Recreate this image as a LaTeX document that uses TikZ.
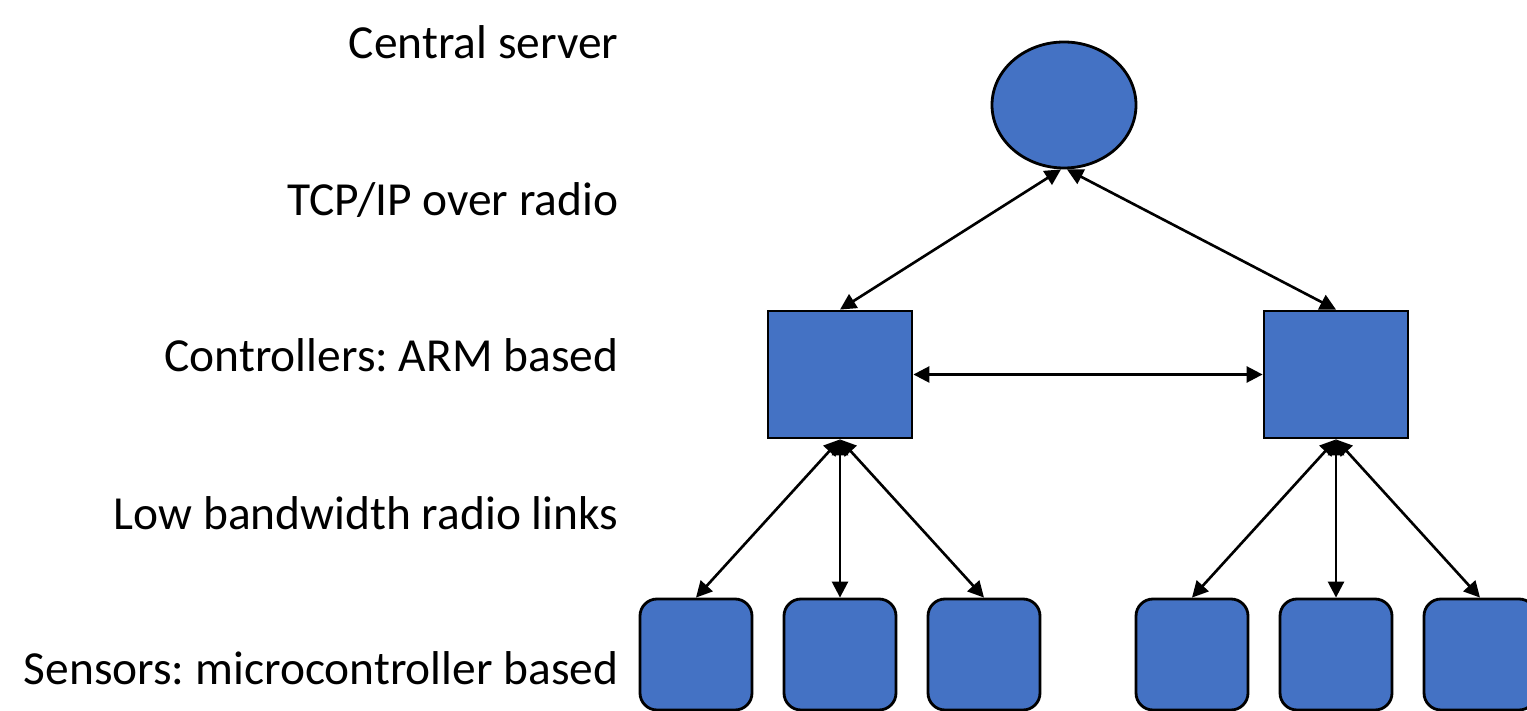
\documentclass[tikz,border=0pt]{standalone}
\usepackage{fontspec}
\setmainfont{Carlito}
\usepackage{tikz}
\usetikzlibrary{arrows.meta}
\usetikzlibrary{shapes.geometric}
\definecolor{nodeblue}{HTML}{4472C4}
\frenchspacing

\begin{document}
\begin{tikzpicture}[
    unit/.style={draw=black, line width=0.8pt, fill=nodeblue, inner sep=0pt},
    ctrlbox/.style={unit, rectangle, minimum width=1.44cm, minimum height=1.27cm},
    sensbox/.style={unit, rectangle, rounded corners=0.17cm, minimum width=1.12cm, minimum height=1.11cm},
    link/.style={{Triangle[length=1.6mm,width=1.6mm]}-{Triangle[length=1.6mm,width=1.6mm]}, line width=0.75pt},
    layer/.style={anchor=east, font=\fontsize{13.5}{16}\selectfont, inner sep=0pt}
  ]
    \useasboundingbox (0,0) rectangle (15.27,-7.11);

    % layer labels
    \node[layer] (labServer) at (6.19,-0.42) {Central server};
    \node[layer] (labTcp) at (6.19,-2.00) {TCP/IP over radio};
    \node[layer] (labCtrl) at (6.19,-3.55) {Controllers: ARM based};
    \node[layer] (labLow) at (6.19,-5.13) {Low bandwidth radio links};
    \node[layer] (labSens) at (6.19,-6.68) {Sensors: microcontroller based};

    % central server
    \node[unit, ellipse, minimum width=1.44cm, minimum height=1.26cm] (server) at (10.64,-1.05) {};

    % controllers
    \node[ctrlbox] (ctrlL) at (8.40,-3.745) {};
    \node[ctrlbox] (ctrlR) at (13.36,-3.745) {};

    % sensors
    \node[sensbox] (sensL1) at (6.96,-6.545) {};
    \node[sensbox] (sensL2) at (8.40,-6.545) {};
    \node[sensbox] (sensL3) at (9.84,-6.545) {};
    \node[sensbox] (sensR1) at (11.92,-6.545) {};
    \node[sensbox] (sensR2) at (13.36,-6.545) {};
    \node[sensbox] (sensR3) at (14.80,-6.545) {};

    % radio links
    \draw[link] (ctrlL.north) -- ([xshift=-0.03cm]server.south);
    \draw[link] (ctrlR.north) -- ([xshift=0.03cm]server.south);
    \draw[link] (ctrlL.east) -- (ctrlR.west);

    % low bandwidth links
    \draw[link] (ctrlL.south) -- (sensL1.north); \draw[link] (ctrlL.south) -- (sensL2.north);
    \draw[link] (ctrlL.south) -- (sensL3.north);
    \draw[link] (ctrlR.south) -- (sensR1.north); \draw[link] (ctrlR.south) -- (sensR2.north);
    \draw[link] (ctrlR.south) -- (sensR3.north);
  \end{tikzpicture}
\end{document}
